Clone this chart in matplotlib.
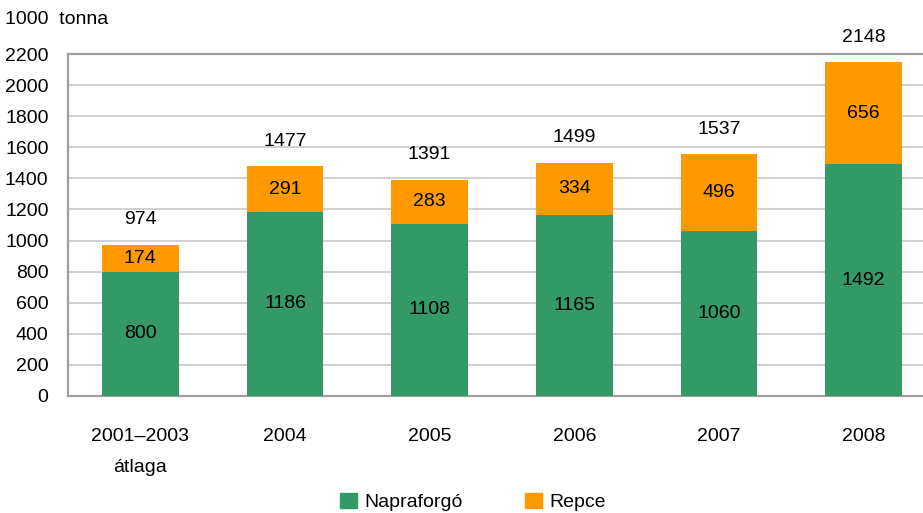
import numpy as np
import matplotlib
matplotlib.use('Agg')
import matplotlib.pyplot as plt
from matplotlib.patches import Patch

plt.rcParams['font.family'] = ['Liberation Sans', 'DejaVu Sans']

categories = ['2001\u20132003\n\u00e1tlaga', '2004', '2005', '2006', '2007', '2008']
napraforgo = [800, 1186, 1108, 1165, 1060, 1492]
repce = [174, 291, 283, 334, 496, 656]
totals = [974, 1477, 1391, 1499, 1537, 2148]

green = '#339966'
orange = '#FF9900'
fs = 14

fig = plt.figure(figsize=(9.23, 5.13), dpi=100)
ax = fig.add_axes([68/923, 117/513, 868/923, 342/513])

x = np.arange(len(categories))
w = 0.53
ax.bar(x, napraforgo, w, color=green, zorder=3)
ax.bar(x, repce, w, bottom=napraforgo, color=orange, zorder=3)

for i in range(len(x)):
    ax.text(x[i], napraforgo[i] / 2, str(napraforgo[i]), ha='center', va='center', fontsize=fs, zorder=4)
    ax.text(x[i], napraforgo[i] + repce[i] / 2, str(repce[i]), ha='center', va='center', fontsize=fs, zorder=4)
    ax.annotate(str(totals[i]), (x[i], napraforgo[i] + repce[i]), xytext=(0, 18),
                textcoords='offset points', ha='center', va='center', fontsize=fs)

ax.set_xlim(-0.5, len(x) - 0.5)
ax.set_ylim(0, 2200)
ax.set_yticks(np.arange(0, 2201, 200))
ax.set_xticks(x)
ax.set_xticklabels(categories, linespacing=2.1, va='top')
ax.tick_params(axis='both', length=0, labelsize=fs)
ax.tick_params(axis='y', pad=14)
ax.tick_params(axis='x', pad=23)
ax.grid(axis='y', color='#c8c8c8', linewidth=1.2, zorder=0)
for s in ['left', 'bottom', 'top']:
    ax.spines[s].set_color('#a0a0a0')
    ax.spines[s].set_linewidth(1.6)
ax.spines['right'].set_visible(False)

fig.text(5/923, 1 - 20/513, '1000  tonna', fontsize=fs, va='center', ha='left')

handles = [Patch(color=green, label='Napraforg\u00f3'), Patch(color=orange, label='Repce')]
fig.legend(handles=handles, loc='center', bbox_to_anchor=(473/923, 1 - 502/513), ncol=2,
           frameon=False, fontsize=fs, handlelength=0.85, handleheight=0.85,
           handletextpad=0.4, columnspacing=3.2)

fig.savefig('out.png', dpi=100)
